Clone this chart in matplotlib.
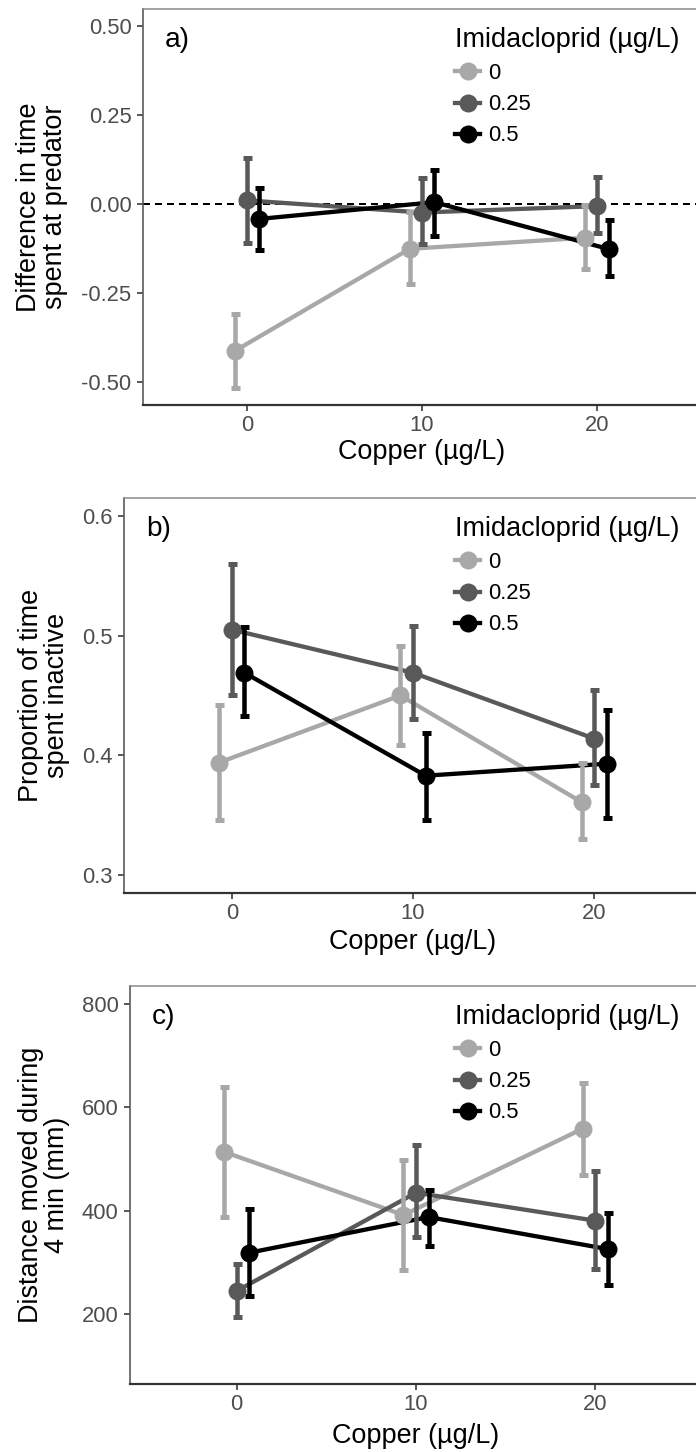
import matplotlib
matplotlib.use('Agg')
import matplotlib.pyplot as plt
from matplotlib.lines import Line2D
import numpy as np

plt.rcParams['font.family'] = ['Liberation Sans', 'DejaVu Sans']

# ---------------- data ----------------
copper = [0, 10, 20]
copper_ticks = [0, 10, 20]
copper_ticklabels = ['0', '10', '20']
imidacloprid_levels = ['0', '0.25', '0.5']

# panel a: difference in time spent at predator
a_mean_0 = [-0.413, -0.126, -0.095]
a_low_0 = [-0.516, -0.226, -0.182]
a_high_0 = [-0.308, -0.022, -0.004]
a_mean_025 = [0.010, -0.024, -0.006]
a_low_025 = [-0.109, -0.112, -0.081]
a_high_025 = [0.128, 0.073, 0.075]
a_mean_05 = [-0.042, 0.005, -0.127]
a_low_05 = [-0.130, -0.091, -0.203]
a_high_05 = [0.046, 0.095, -0.046]
a_yticks = [-0.50, -0.25, 0.00, 0.25, 0.50]
a_yticklabels = ['-0.50', '-0.25', '0.00', '0.25', '0.50']

# panel b: proportion of time spent inactive
b_mean_0 = [0.394, 0.450, 0.361]
b_low_0 = [0.346, 0.409, 0.330]
b_high_0 = [0.442, 0.491, 0.394]
b_mean_025 = [0.505, 0.469, 0.414]
b_low_025 = [0.450, 0.430, 0.375]
b_high_025 = [0.560, 0.508, 0.455]
b_mean_05 = [0.469, 0.383, 0.393]
b_low_05 = [0.433, 0.346, 0.348]
b_high_05 = [0.507, 0.419, 0.438]
b_yticks = [0.3, 0.4, 0.5, 0.6]
b_yticklabels = ['0.3', '0.4', '0.5', '0.6']

# panel c: distance moved during 4 min (mm)
c_mean_0 = [514, 392, 559]
c_low_0 = [388, 286, 470]
c_high_0 = [640, 499, 648]
c_mean_025 = [245, 435, 381]
c_low_025 = [195, 350, 288]
c_high_025 = [297, 528, 477]
c_mean_05 = [319, 388, 326]
c_low_05 = [235, 332, 257]
c_high_05 = [404, 440, 396]
c_yticks = [200, 400, 600, 800]
c_yticklabels = ['200', '400', '600', '800']

# ---------------- style ----------------
W, H = 696, 1452
DPI = 100
colors = ['#a8a8a8', '#595959', '#000000']
dodge = [-0.7, 0.0, 0.7]
PX = 0.72  # points per pixel

fig = plt.figure(figsize=(W / DPI, H / DPI), dpi=DPI)


def add_axes_px(l, t, r, b):
    return fig.add_axes([l / W, 1 - b / H, (r - l) / W, (b - t) / H])


def panel(ax, means, lows, highs, ylim, yticks, yticklabels, ylabel, tag,
          ylabel_x_px, left_px, xlabel_dy, hline=False):
    ax.set_xlim(-5.95, 25.95)
    ax.set_ylim(*ylim)
    if hline:
        ax.axhline(0, color='black', lw=2.0 * PX, ls=(0, (3.5, 2.5)), zorder=1)
    xs_all = []
    for i in range(3):
        xs = [c + dodge[i] for c in copper]
        xs_all.append(xs)
        ax.plot(xs, means[i], color=colors[i], lw=4.3 * PX, zorder=2,
                solid_capstyle='butt')
    for i in range(3):
        m = np.array(means[i]); lo = np.array(lows[i]); hi = np.array(highs[i])
        ax.errorbar(xs_all[i], m, yerr=[m - lo, hi - m], fmt='none',
                    ecolor=colors[i], elinewidth=4.5 * PX,
                    capsize=4.5 * PX, capthick=5.0 * PX, zorder=3)
    for i in range(3):
        ax.plot(xs_all[i], means[i], 'o', color=colors[i],
                markersize=18 * PX, markeredgewidth=0, zorder=4)

    ax.set_xticks(copper_ticks, labels=copper_ticklabels)
    ax.set_yticks(yticks, labels=yticklabels)
    ax.tick_params(axis='both', direction='out', length=6 * PX, width=1.6 * PX,
                   color='#333333', labelcolor='#4d4d4d', labelsize=22 * PX)
    ax.tick_params(axis='y', pad=4.0)
    ax.tick_params(axis='x', pad=3.0)

    for s in ['top', 'right']:
        ax.spines[s].set_color('#888888')
        ax.spines[s].set_linewidth(1.5 * PX)
    ax.spines['left'].set_color('#555555')
    ax.spines['left'].set_linewidth(1.6 * PX)
    ax.spines['bottom'].set_color('#333333')
    ax.spines['bottom'].set_linewidth(2.2 * PX)

    # axis titles
    bb = ax.get_position()
    ax_h_px = bb.height * H
    ax_w_px = bb.width * W
    ax.set_xlabel('Copper (µg/L)', fontsize=27 * PX, color='black')
    ax.xaxis.set_label_coords(0.5, -xlabel_dy / ax_h_px)
    ax.xaxis.label.set_verticalalignment('center')
    ax.set_ylabel(ylabel, fontsize=27 * PX, color='black', linespacing=1.02,
                  multialignment='center')
    ax.yaxis.set_label_coords((ylabel_x_px - left_px) / ax_w_px, 0.5)
    ax.yaxis.label.set_verticalalignment('center')
    ax.yaxis.label.set_horizontalalignment('center')

    # panel tag
    ax.annotate(tag, xy=(0, 1), xycoords='axes fraction',
                xytext=(22 * PX, -31 * PX), textcoords='offset points',
                ha='left', va='center', fontsize=28 * PX, color='black')

    # legend
    handles = [Line2D([], [], color=colors[i], lw=4.3 * PX, marker='o',
                      markersize=18 * PX, markeredgewidth=0)
               for i in range(3)]
    top_px = (1 - bb.y1) * H
    leg = ax.legend(handles, imidacloprid_levels, title='Imidacloprid (µg/L)',
                    loc='upper left',
                    bbox_to_anchor=(455 / W, 1 - (top_px + 18) / H),
                    bbox_transform=fig.transFigure,
                    frameon=False, fontsize=22 * PX, title_fontsize=27 * PX,
                    handlelength=1.15, handletextpad=0.35, labelspacing=0.46,
                    borderpad=0, borderaxespad=0, alignment='left',
                    numpoints=1)
    leg.get_title().set_color('black')
    for t in leg.get_texts():
        t.set_color('black')


ax_a = add_axes_px(143, 9, 701, 405)
panel(ax_a, [a_mean_0, a_mean_025, a_mean_05], [a_low_0, a_low_025, a_low_05],
      [a_high_0, a_high_025, a_high_05], (-0.565, 0.548), a_yticks,
      a_yticklabels, 'Difference in time\nspent at predator', 'a)', 42, 143,
      47, hline=True)

ax_b = add_axes_px(124, 498, 702, 893)
panel(ax_b, [b_mean_0, b_mean_025, b_mean_05], [b_low_0, b_low_025, b_low_05],
      [b_high_0, b_high_025, b_high_05], (0.285, 0.615), b_yticks,
      b_yticklabels, 'Proportion of time\nspent inactive', 'b)', 44, 124, 49)

ax_c = add_axes_px(130, 986, 702, 1384)
panel(ax_c, [c_mean_0, c_mean_025, c_mean_05], [c_low_0, c_low_025, c_low_05],
      [c_high_0, c_high_025, c_high_05], (65, 835), c_yticks,
      c_yticklabels, 'Distance moved during\n4 min (mm)', 'c)', 44, 130, 52)

fig.savefig('out.png', dpi=DPI)
